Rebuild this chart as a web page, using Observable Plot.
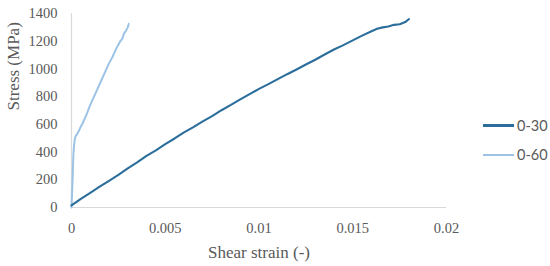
<!DOCTYPE html>
<html>
<head>
<meta charset="utf-8">
<script src="https://cdn.jsdelivr.net/npm/d3@7"></script>
<script src="https://cdn.jsdelivr.net/npm/@observablehq/plot@0.6"></script>
<style>
  html, body { margin: 0; padding: 0; background: #fff; }
  #wrap { position: relative; width: 550px; height: 266px; }
  #legend { position: absolute; left: 483px; top: 111px; font-family: Lato, "Open Sans", sans-serif; font-size: 14.5px; color: #595959; }
  .item { display: flex; align-items: center; height: 29px; }
  .swatch { width: 31px; height: 0; margin-right: 3px; }
</style>
</head>
<body>
<div id="wrap"><div id="legend"></div></div>
<script>
const seriesNames = ["0-30", "0-60"];
const seriesColors = ["#2b6e9c", "#9cc3e5"];

const strain030 = [0, 0.0005, 0.001, 0.0015, 0.002, 0.0025, 0.003, 0.0035, 0.004, 0.0045, 0.005, 0.0055, 0.006, 0.0065, 0.007, 0.0075, 0.008, 0.0085, 0.009, 0.0095, 0.010, 0.0105, 0.011, 0.0115, 0.012, 0.0125, 0.013, 0.0135, 0.014, 0.0145, 0.015, 0.0155, 0.016, 0.0163, 0.0166, 0.0169, 0.0172, 0.0175, 0.0178, 0.018];
const stress030 = [15, 62, 105, 150, 192, 236, 282, 325, 372, 412, 458, 498, 542, 580, 622, 660, 702, 740, 780, 818, 856, 890, 926, 962, 996, 1032, 1066, 1104, 1140, 1172, 1206, 1240, 1272, 1290, 1300, 1306, 1318, 1322, 1338, 1360];

const strain060 = [0, 0.00002, 0.00004, 0.00006, 0.00008, 0.0001, 0.00013, 0.00017, 0.00022, 0.0003, 0.0004, 0.0005, 0.0006, 0.0008, 0.001, 0.0012, 0.0014, 0.0016, 0.0018, 0.002, 0.0022, 0.0024, 0.0026, 0.0027, 0.0028, 0.0029, 0.003, 0.00305];
const stress060 = [0, 70, 140, 210, 300, 380, 440, 490, 515, 530, 555, 585, 610, 670, 740, 800, 860, 920, 980, 1040, 1090, 1150, 1200, 1215, 1255, 1275, 1300, 1325];

const data = [
  ...strain030.map((x, i) => ({series: seriesNames[0], strain: x, stress: stress030[i]})),
  ...strain060.map((x, i) => ({series: seriesNames[1], strain: x, stress: stress060[i]}))
];

const xTicks = [0, 0.005, 0.01, 0.015, 0.02];
const xTickLabels = ["0", "0.005", "0.01", "0.015", "0.02"];
const yTicks = [0, 200, 400, 600, 800, 1000, 1200, 1400];
const yTickLabels = ["0", "200", "400", "600", "800", "1000", "1200", "1400"];

const chart = Plot.plot({
  width: 550,
  height: 266,
  marginLeft: 71,
  marginRight: 104,
  marginTop: 13,
  marginBottom: 59,
  style: {fontFamily: "'Liberation Serif', serif", fontSize: "14px", color: "#595959", background: "transparent"},
  x: {domain: [0, 0.02], label: null},
  y: {domain: [0, 1400], label: null},
  color: {domain: seriesNames, range: seriesColors},
  marks: [
    Plot.axisX({ticks: xTicks, tickFormat: d => xTickLabels[xTicks.indexOf(d)], tickSize: 0, tickPadding: 15, label: null, fontSize: 14.5}),
    Plot.axisY({ticks: yTicks, tickFormat: d => yTickLabels[yTicks.indexOf(d)], tickSize: 0, tickPadding: 14, label: null, fontSize: 14.5}),
    Plot.ruleY([0], {stroke: "#d9d9d9", strokeWidth: 1.2}),
    Plot.ruleX([0], {stroke: "#d9d9d9", strokeWidth: 1.2}),
    Plot.line(data.filter(d => d.series === seriesNames[1]), {x: "strain", y: "stress", stroke: "series", strokeWidth: 2}),
    Plot.line(data.filter(d => d.series === seriesNames[0]), {x: "strain", y: "stress", stroke: "series", strokeWidth: 2.1}),
    Plot.text(["Shear strain (-)"], {frameAnchor: "bottom", dy: 50, fontSize: 17, fill: "#595959"}),
    Plot.text(["Stress (MPa)"], {frameAnchor: "left", dx: -58, rotate: -90, fontSize: 17, fill: "#595959"})
  ]
});
document.getElementById("wrap").prepend(chart);

const legend = document.getElementById("legend");
seriesNames.forEach((name, i) => {
  const item = document.createElement("div");
  item.className = "item";
  const sw = document.createElement("div");
  sw.className = "swatch";
  sw.style.borderTop = (i === 0 ? 3 : 2) + "px solid " + seriesColors[i];
  const lab = document.createElement("span");
  lab.textContent = name;
  item.appendChild(sw);
  item.appendChild(lab);
  legend.appendChild(item);
});
</script>
</body>
</html>
